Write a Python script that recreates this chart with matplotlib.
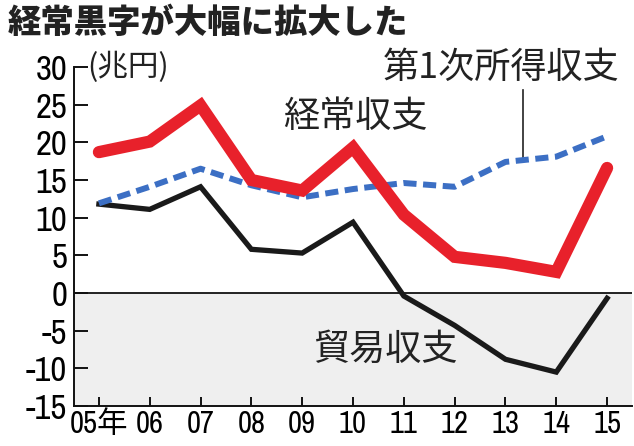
import matplotlib
matplotlib.use("Agg")
import matplotlib.pyplot as plt
from matplotlib import font_manager

years = ["05年", "06", "07", "08", "09", "10", "11", "12", "13", "14", "15"]
current_account = [18.7, 20.1, 24.9, 15.0, 13.6, 19.3, 10.4, 4.8, 4.0, 2.8, 16.6]
primary_income = [11.9, 14.1, 16.5, 14.3, 12.7, 13.8, 14.6, 14.1, 17.4, 18.1, 20.8]
trade_balance = [11.8, 11.1, 14.1, 5.8, 5.3, 9.4, -0.4, -4.3, -8.8, -10.5, -0.7]
yticks = [30, 25, 20, 15, 10, 5, 0, -5, -10, -15]

cjk = "Noto Sans CJK JP"
# look for a condensed/narrow font for the numerals
num_prop = None
for f in font_manager.fontManager.ttflist:
    if ("Narrow" in f.name or "Condensed" in f.name) and f.style == "normal":
        num_prop = dict(family=[f.name, cjk])
        break
if num_prop is None:
    for f in font_manager.fontManager.ttflist:
        if f.stretch in ("condensed", "semi-condensed", 600, 700, 500) and f.style == "normal" \
                and f.weight in (400, "normal", "regular"):
            num_prop = dict(family=[f.name, cjk], fontstretch=f.stretch)
            break
if num_prop is None:
    num_prop = dict(family=["Liberation Sans", cjk])
    num_size = 21
else:
    num_size = 25

fig = plt.figure(figsize=(6.34, 4.46), dpi=100)
ax = fig.add_axes([74/634, 1-406/446, (632-74)/634, (406-67)/446])
x = list(range(len(years)))

ax.set_xlim(-0.49, 10.49)
ax.set_ylim(-15, 30)
ax.axhspan(-15, 0, color="#efefef", zorder=0, lw=0)
ax.axhline(0, color="#111111", lw=1.3, zorder=1)

ax.plot(x, trade_balance, color="#1a1a1a", lw=3.8, solid_joinstyle="miter", zorder=3)
ax.plot(x, primary_income, color="#3c6fc4", lw=4.3, dashes=(2.2, 1.1), zorder=3)
ax.plot(x, current_account, color="#e8212b", lw=8.8, solid_capstyle="round",
        solid_joinstyle="miter", zorder=4)

for s in ["top", "right"]:
    ax.spines[s].set_visible(False)
for s in ["left", "bottom"]:
    ax.spines[s].set_linewidth(1.4)
    ax.spines[s].set_color("#111111")

ax.set_yticks(yticks)
ax.set_yticklabels([str(v) for v in yticks], fontsize=num_size, **num_prop)
ax.set_xticks(x)
ax.set_xticklabels(years, fontsize=num_size - 3, **num_prop)
ax.tick_params(axis="y", direction="in", length=10, width=1.4, pad=5, color="#111111")
ax.tick_params(axis="x", direction="in", length=6.5, width=1.4, pad=3, color="#111111")

ax.text(-0.22, 29.9, "(兆円)", family=cjk, fontsize=22, va="center", ha="left", color="#222222")
ax.text(5.05, 23.3, "経常収支", family=cjk, fontsize=26, va="center", ha="center", color="#222222")
ax.text(7.92, 29.9, "第1次所得収支", family=cjk, fontsize=26, va="center", ha="center",
        color="#222222", clip_on=False)
ax.text(5.63, -7.6, "貿易収支", family=cjk, fontsize=26, va="center", ha="center", color="#222222")
ax.plot([8.35, 8.35], [27.0, 17.7], color="#222222", lw=1.2, zorder=2)

fig.text(8/634, 1-22/446, "経常黒字が大幅に拡大した", family=cjk, fontsize=24,
         fontweight="heavy", va="center", ha="left", color="#222222")

fig.savefig("out.png", dpi=100)
